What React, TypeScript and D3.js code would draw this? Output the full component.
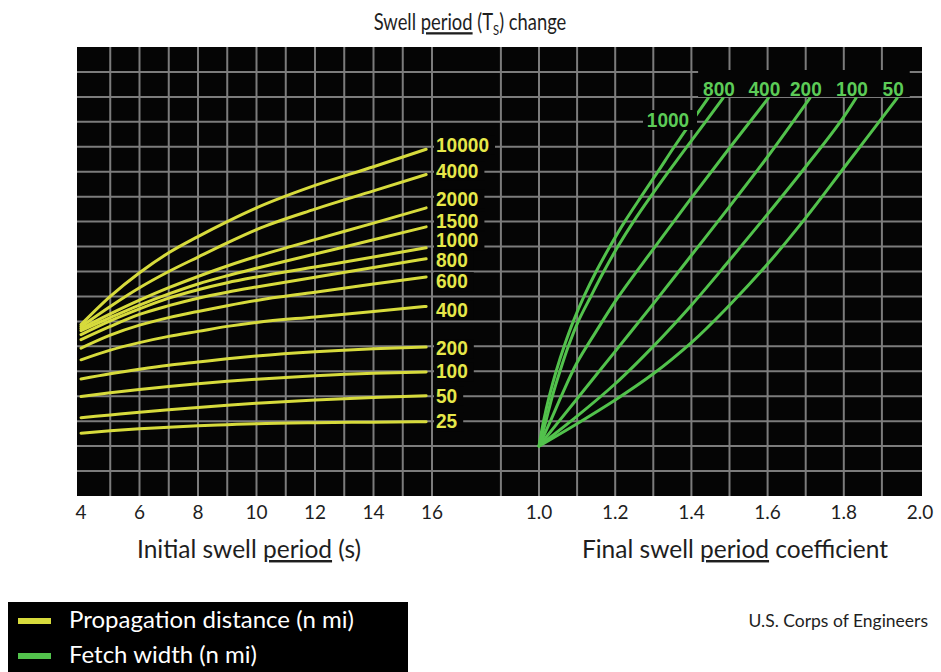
import React from "react";
import * as d3 from "d3";

// ---------- data ----------
// Left panel: initial swell period (s) vs. chart level (grid units, unlabeled axis)
const periodTicks = [4, 6, 8, 10, 12, 14, 16];
const coefTicks = [1.0, 1.2, 1.4, 1.6, 1.8, 2.0];

const distanceNames = ["10000", "4000", "2000", "1500", "1000", "800", "600", "400", "200", "100", "50", "25"];
const periodSamples = [4, 5, 6, 7, 8, 9, 10, 12, 14, 15.8];
const dist10000 = [6.87, 8.0, 8.95, 9.75, 10.4, 11.0, 11.55, 12.45, 13.2, 13.9];
const dist4000 = [6.79, 7.6, 8.35, 9.0, 9.58, 10.15, 10.68, 11.5, 12.23, 12.89];
const dist2000 = [6.71, 7.3, 7.85, 8.35, 8.8, 9.22, 9.6, 10.28, 10.94, 11.55];
const dist1500 = [6.63, 7.15, 7.65, 8.1, 8.5, 8.83, 9.13, 9.7, 10.27, 10.79];
const dist1000 = [6.47, 7.02, 7.5, 7.93, 8.27, 8.55, 8.78, 9.18, 9.58, 9.95];
const dist800 = [6.27, 6.8, 7.28, 7.63, 7.93, 8.17, 8.38, 8.77, 9.16, 9.51];
const dist600 = [5.93, 6.45, 6.85, 7.15, 7.4, 7.63, 7.84, 8.17, 8.5, 8.78];
const dist400 = [5.46, 5.85, 6.15, 6.4, 6.6, 6.8, 6.96, 7.18, 7.4, 7.6];
const dist200 = [4.69, 4.9, 5.08, 5.24, 5.37, 5.5, 5.61, 5.78, 5.9, 5.97];
const dist100 = [3.99, 4.14, 4.27, 4.39, 4.5, 4.6, 4.68, 4.82, 4.92, 4.97];
const dist50 = [3.14, 3.25, 3.36, 3.46, 3.55, 3.64, 3.72, 3.85, 3.95, 4.02];
const dist25 = [2.52, 2.62, 2.7, 2.76, 2.82, 2.86, 2.9, 2.94, 2.96, 2.98];
const distanceLabelLevels = [13.8, 12.76, 11.64, 10.75, 9.97, 9.19, 8.33, 7.19, 5.65, 4.72, 3.74, 2.71];

// Right panel: final swell period coefficient vs. chart level
const fetchNames = ["1000", "800", "400", "200", "100", "50"];
const fetch1000: [number, number][] = [[1.0, 2], [1.012, 3], [1.027, 4], [1.045, 5], [1.066, 6], [1.09, 7], [1.118, 8], [1.15, 9], [1.186, 10], [1.225, 11], [1.268, 12], [1.312, 13], [1.355, 14], [1.4, 15], [1.444, 15.95]];
const fetch800: [number, number][] = [[1.0, 2], [1.018, 3], [1.035, 4], [1.055, 5], [1.077, 6], [1.103, 7], [1.136, 8], [1.17, 9], [1.207, 10], [1.248, 11], [1.293, 12], [1.34, 13], [1.388, 14], [1.437, 15], [1.483, 15.95]];
const fetch400: [number, number][] = [[1.0, 2], [1.03, 3.0], [1.06, 4.05], [1.1, 5.35], [1.15, 6.6], [1.2, 7.8], [1.3, 9.9], [1.4, 11.95], [1.5, 13.95], [1.602, 15.95]];
const fetch200: [number, number][] = [[1.0, 2], [1.05, 2.95], [1.1, 3.9], [1.2, 5.8], [1.3, 7.7], [1.4, 9.65], [1.5, 11.6], [1.6, 13.6], [1.711, 15.95]];
const fetch100: [number, number][] = [[1.0, 2], [1.1, 3.2], [1.2, 4.5], [1.3, 6.0], [1.4, 7.65], [1.5, 9.45], [1.6, 11.3], [1.7, 13.2], [1.8, 15.2], [1.832, 15.95]];
const fetch50: [number, number][] = [[1.0, 2], [1.1, 2.9], [1.2, 3.85], [1.3, 4.9], [1.4, 6.15], [1.5, 7.65], [1.6, 9.3], [1.7, 11.15], [1.8, 13.15], [1.94, 15.95]];

const legendItems = ["Propagation distance (n mi)", "Fetch width (n mi)"];

// ---------- layout ----------
const W = 941;
const H = 672;
const plot = { left: 77, right: 922, top: 47, bottom: 496 };
const YELLOW = "#d7db3c";
const YELLOW_TXT = "#e6e84a";
const GREEN = "#52c24c";
const GREEN_TXT = "#5ccb57";
const GRID = "#7c7c7c";
const TXT = "#1e1e1e";
const BG = "#050505";
const SANS = "Lato, 'Open Sans', sans-serif";
const LABEL_FONT = "'Liberation Sans', Arial, sans-serif";
const DIGIT_W = 10.6;

export default function App() {
  const yScale = d3.scaleLinear().domain([0, 18]).range([plot.bottom, plot.top]);
  const xLeft = d3.scaleLinear().domain([4, 16]).range([81, 432]);
  const xRight = d3.scaleLinear().domain([1, 2]).range([539, 920]);

  const distanceSeries = [dist10000, dist4000, dist2000, dist1500, dist1000, dist800, dist600, dist400, dist200, dist100, dist50, dist25];
  const fetchSeries = [fetch1000, fetch800, fetch400, fetch200, fetch100, fetch50];

  const yellowLine = d3
    .line<[number, number]>()
    .x((d) => xLeft(d[0]))
    .y((d) => yScale(d[1]))
    .curve(d3.curveMonotoneX);

  const greenLine = d3
    .line<[number, number]>()
    .x((d) => xRight(d[0]))
    .y((d) => yScale(d[1]))
    .curve(d3.curveMonotoneY);

  const gridLevels = d3.range(1, 18);
  const leftGrid = d3.range(5, 17);
  const rightGrid = d3.range(9, 20).map((v) => v / 10);

  // top green labels (all but the first, which sits beside its curve)
  const topLabels = fetchNames.slice(1).map((name, k) => {
    const s = fetchSeries[k + 1];
    const end = s[s.length - 1];
    return { name, cx: xRight(end[0]) - 4, w: name.length * DIGIT_W };
  });
  const topBoxLeft = topLabels[0].cx - topLabels[0].w / 2 - 5;
  const lastTop = topLabels[topLabels.length - 1];
  const topBoxRight = lastTop.cx + lastTop.w / 2 + 6;

  const labelText = (name: string, x: number, y: number, fill: string, anchor: string) => (
    <text
      x={x}
      y={y}
      textAnchor={anchor}
      fontFamily={LABEL_FONT}
      fontWeight="bold"
      fontSize={20}
      fill={fill}
      textLength={name.length * DIGIT_W}
      lengthAdjust="spacingAndGlyphs"
    >
      {name}
    </text>
  );

  return (
    <div style={{ position: "absolute", left: 0, top: 0, width: W, height: H, background: "#fff" }}>
      <svg width={W} height={H} style={{ display: "block" }}>
        {/* Title (condensed by horizontal scaling) */}
        <g transform="translate(470,30) scale(0.8,1)">
          <text x={0} y={0} textAnchor="middle" fontFamily={SANS} fontSize={23} fill={TXT}>
            <tspan>Swell </tspan>
            <tspan style={{ textDecoration: "underline" }}>period</tspan>
            <tspan> (T</tspan>
            <tspan dy={5} fontSize={14}>S</tspan>
            <tspan dy={-5}>) change</tspan>
          </text>
        </g>

        {/* Plot background */}
        <rect x={plot.left} y={plot.top} width={plot.right - plot.left} height={plot.bottom - plot.top} fill={BG} />

        {/* Grid */}
        <g stroke={GRID} strokeWidth={2}>
          {gridLevels.map((g) => (
            <line key={"h" + g} x1={plot.left} x2={plot.right} y1={yScale(g)} y2={yScale(g)} />
          ))}
          {leftGrid.map((v) => (
            <line key={"vl" + v} x1={xLeft(v)} x2={xLeft(v)} y1={plot.top} y2={plot.bottom} />
          ))}
          {rightGrid.map((v) => (
            <line key={"vr" + v} x1={xRight(v)} x2={xRight(v)} y1={plot.top} y2={plot.bottom} />
          ))}
        </g>

        {/* Yellow curves: propagation distance */}
        <g fill="none" stroke={YELLOW} strokeWidth={3} strokeLinecap="round">
          {distanceSeries.map((s, i) => (
            <path key={"y" + i} d={yellowLine(periodSamples.map((p, j) => [p, s[j]] as [number, number])) || ""} />
          ))}
        </g>
        {/* Yellow labels */}
        {distanceNames.map((name, i) => {
          const by = yScale(distanceLabelLevels[i]);
          const w = name.length * DIGIT_W;
          return (
            <g key={"yl" + i}>
              <rect x={434} y={by - 16} width={w + 8} height={19} fill={BG} />
              {labelText(name, 436, by, YELLOW_TXT, "start")}
            </g>
          );
        })}

        {/* Green curves: fetch width */}
        <g fill="none" stroke={GREEN} strokeWidth={3} strokeLinecap="round">
          {fetchSeries.map((s, i) => (
            <path key={"g" + i} d={greenLine(s.slice().reverse()) || ""} />
          ))}
        </g>
        {/* Green labels */}
        <g>
          <rect x={643} y={110} width={54} height={20} fill={BG} />
          {labelText(fetchNames[0], 668, 127, GREEN_TXT, "middle")}
        </g>
        <rect x={topBoxLeft} y={70} width={topBoxRight - topBoxLeft} height={27} fill={BG} />
        {topLabels.map((l) => (
          <g key={"gl" + l.name}>{labelText(l.name, l.cx, 96, GREEN_TXT, "middle")}</g>
        ))}

        {/* X tick labels */}
        <g fontFamily={SANS} fontSize={19} fill={TXT} textAnchor="middle">
          {periodTicks.map((t) => (
            <text key={"pt" + t} x={xLeft(t)} y={519}>
              {t}
            </text>
          ))}
          {coefTicks.map((t) => (
            <text key={"ct" + t} x={xRight(t)} y={519}>
              {t.toFixed(1)}
            </text>
          ))}
        </g>

        {/* Axis titles */}
        <text x={249} y={558} textAnchor="middle" fontFamily={SANS} fontSize={24.5} fill={TXT}>
          <tspan>Initial swell </tspan>
          <tspan style={{ textDecoration: "underline" }}>period</tspan>
          <tspan> (s)</tspan>
        </text>
        <text x={735} y={558} textAnchor="middle" fontFamily={SANS} fontSize={24.5} fill={TXT}>
          <tspan>Final swell </tspan>
          <tspan style={{ textDecoration: "underline" }}>period</tspan>
          <tspan> coefficient</tspan>
        </text>

        {/* Legend */}
        <rect x={8} y={602} width={400} height={H - 602} fill="#000" />
        {legendItems.map((label, i) => (
          <g key={"lg" + i}>
            <rect x={18} y={618 + i * 35} width={33} height={6} fill={i === 0 ? YELLOW : GREEN} />
            <text x={69} y={628 + i * 35} fontFamily={SANS} fontSize={24} fill="#fff">
              {label}
            </text>
          </g>
        ))}

        {/* Source */}
        <text x={928} y={627} textAnchor="end" fontFamily={SANS} fontSize={17.5} fill={TXT}>
          U.S. Corps of Engineers
        </text>
      </svg>
    </div>
  );
}
